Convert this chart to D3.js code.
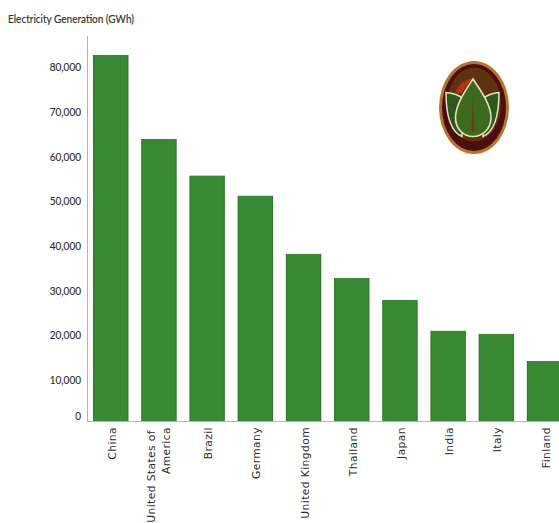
<!DOCTYPE html>
<html><head><meta charset="utf-8">
<script src="https://cdn.jsdelivr.net/npm/d3@7"></script>
<style>html,body{margin:0;padding:0;background:#fff;overflow:hidden}svg{display:block}</style>
</head><body><svg id="c" width="559" height="523"></svg>
<script>
const categories=["China","United States of|America","Brazil","Germany","United Kingdom","Thailand","Japan","India","Italy","Finland"];
const values=[82700,63900,55700,51200,38200,32800,27900,21000,20300,14250];
const yTicks=[0,10000,20000,30000,40000,50000,60000,70000,80000];
const yTitle="Electricity Generation (GWh)";
const svg=d3.select("#c");
const baseY=421;
const x=d3.scaleBand().domain(categories).range([87,568.3]).paddingInner(0.265).paddingOuter(0.125);
const y=d3.scaleLinear().domain([0,80000]).range([424.7,67]);
const narrow=function(){const s=d3.select(this);s.attr("textLength",this.getComputedTextLength()*0.87).attr("lengthAdjust","spacingAndGlyphs");};
// bars
const grad=svg.append("defs").append("linearGradient").attr("id","bar");
[[0,"#2c6f2a"],[0.05,"#388a35"],[0.95,"#388a35"],[1,"#2c6f2a"]].forEach(s=>grad.append("stop").attr("offset",s[0]).attr("stop-color",s[1]));
svg.selectAll("rect.b").data(categories).join("rect").attr("class","b")
 .attr("x",d=>x(d)).attr("width",x.bandwidth())
 .attr("y",(d,i)=>y(values[i])).attr("height",(d,i)=>baseY-y(values[i]))
 .attr("fill","url(#bar)");
// axes
const ya=svg.append("g").attr("transform","translate(87,0)").call(d3.axisLeft(y).tickValues(yTicks).tickSize(0).tickPadding(6).tickFormat(d3.format(",")));
ya.select(".domain").attr("stroke","#b5b5b5").attr("d","M0.5,36V421.5");
ya.selectAll("text").attr("font-family","Lato, 'Open Sans', sans-serif").attr("font-size",11.5).attr("fill","#2e2e2e").attr("stroke","#2e2e2e").attr("stroke-width",0.15)
 .attr("dy",d=>d===0?"-5px":"0.32em").attr("x",-6).each(narrow);
const xa=svg.append("g").attr("transform","translate(0,"+baseY+")").call(d3.axisBottom(x).tickSize(0).tickFormat(""));
xa.select(".domain").attr("stroke","#b5b5b5").attr("d","M87,0.5H559");
xa.selectAll(".tick").each(function(d){
  const lines=d.split("|"), g=d3.select(this);
  const t=g.append("text").attr("transform","rotate(-90)").attr("text-anchor","end")
    .attr("font-family","'DejaVu Sans', sans-serif").attr("font-size",10.7).attr("letter-spacing",0.42).attr("fill","#2e2e2e");
  lines.forEach((l,i)=>t.append("tspan").attr("x",i===0&&lines.length>1?-9:-6).attr("y",lines.length>1?(i===0?-3.5:11):5).text(l));
});
svg.append("text").attr("x",8).attr("y",23).attr("font-family","Lato, 'Open Sans', sans-serif").attr("font-size",11.5).attr("fill","#2e2e2e").attr("stroke","#2e2e2e").attr("stroke-width",0.15).text(yTitle).each(narrow);
// logo
const logo=svg.append("g").attr("transform","translate(474,107.5)");
logo.append("ellipse").attr("rx",35).attr("ry",46.5).attr("fill","#b8742e");
logo.append("ellipse").attr("rx",32).attr("ry",43.5).attr("fill","#4c0f10");
logo.append("ellipse").attr("cy",-3).attr("rx",27).attr("ry",37).attr("fill","#5e3210");
logo.append("path").attr("d","M-3,-29Q-13,-27 -19,-15L-13,-14Q-8,-22 -3,-27Z").attr("fill","#b83218");
const leafStyle=s=>s.attr("fill","#2c5a1c").attr("stroke","#eadfc0").attr("stroke-width",1.5);
logo.append("path").attr("d","M-28,-15Q-17,-14 -11,-9L-12,29Q-28,22 -28,-15Z").call(leafStyle);
logo.append("path").attr("d","M25,-15Q15,-14 9,-9L9,29Q25,22 25,-15Z").call(leafStyle);
logo.append("path").attr("d","M-1,-28.5C6,-18 17,-3 17,10C17,22 8,29 -1,29C-10,29 -18.5,22 -18.5,10C-18.5,-3 -8,-18 -1,-28.5Z").attr("fill","#3d6a1f").attr("stroke","#eadfc0").attr("stroke-width",1.6);
logo.append("path").attr("d","M-1,-12L0.5,24L-2.5,24Z").attr("fill","#6e3a14");
</script></body></html>
